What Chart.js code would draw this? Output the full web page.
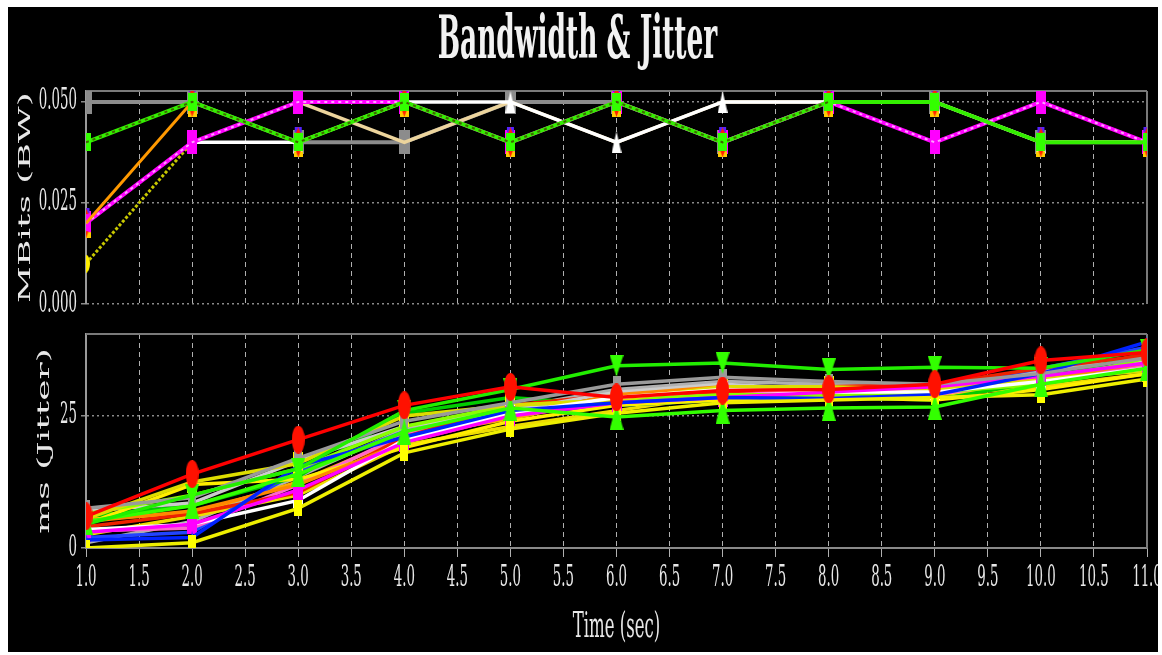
<!DOCTYPE html>
<html><head><meta charset="utf-8">
<script src="https://cdn.jsdelivr.net/npm/chart.js@4.4.1/dist/chart.umd.min.js"></script>
<style>
html,body{margin:0;padding:0;background:#fff;width:1162px;height:655px;overflow:hidden;}
#wrap{position:absolute;left:8px;top:7px;width:1150px;height:645px;background:#000;overflow:hidden;}
#c1{position:absolute;left:0;top:0;width:1150px;height:317px;}
#c2{position:absolute;left:0;top:317px;width:1150px;height:328px;}
</style></head><body>
<div id="wrap"><canvas id="c1" width="1150" height="317"></canvas><canvas id="c2" width="1150" height="328"></canvas></div>
<script>
// ---------- data ----------
const times = [1, 2, 3, 4, 5, 6, 7, 8, 9, 10, 11];
const xTicks = [1.0, 1.5, 2.0, 2.5, 3.0, 3.5, 4.0, 4.5, 5.0, 5.5, 6.0, 6.5, 7.0, 7.5, 8.0, 8.5, 9.0, 9.5, 10.0, 10.5, 11.0];
const bwTicks = [0, 0.025, 0.05];
const jitterTicks = [0, 25];

// Bandwidth (MBits)
const bwGreen   = [0.04, 0.05, 0.04, 0.05, 0.04, 0.05, 0.04, 0.05, 0.05, 0.04, 0.04];
const bwOlive   = [0.04, 0.05, 0.04, 0.05, 0.04, 0.05, 0.04, 0.05, null, null, null];
const bwMagenta = [0.02, 0.04, 0.05, 0.05, 0.04, 0.05, 0.04, 0.05, 0.04, 0.05, 0.04];
const bwWhite   = [null, 0.04, 0.04, 0.05, 0.05, 0.04, 0.05, 0.05, 0.05, 0.04, 0.04];
const bwTan     = [null, null, 0.05, 0.04, 0.05, 0.04, 0.05, 0.05, 0.05, 0.04, 0.04];
const bwGray    = [0.05, 0.05, 0.04, 0.04, 0.05, 0.05, 0.04, 0.05, 0.05, 0.04, 0.04];
const bwOrange  = [0.02, 0.05, 0.04, 0.05, 0.04, 0.05, 0.04, 0.05, 0.05, 0.04, 0.04];
const bwYellow  = [0.01, 0.04, 0.05, 0.05, 0.04, 0.05, 0.04, 0.05, 0.04, 0.05, 0.04];

// Jitter (ms)
const jRed      = [6, 14, 20.5, 27, 30.5, 28.5, 29.8, 30, 31, 35.5, 37];
const jGreenHi  = [4.5, 10, 15, 26, 30, 34.5, 35, 33.8, 34.2, 34, 37.5];
const jGreenLo  = [5, 8, 14, 22, 26.5, 24.8, 26, 26.5, 26.7, 31, 34];
const jGray     = [7.5, 9.5, 17, 24, 27.5, 31, 32.3, 31.5, 31, 33, 36];
const jYellowLo = [0, 1, 7.5, 18, 22.5, 25.5, 27.5, 28, 28.5, 29, 32];
const jYellowHi = [5.5, 12.5, 16, 25, 27, 28, 30.5, 30.5, 30, 32, 33.5];
const jBlue     = [1.5, 2, 15.5, 21, 26, 27.5, 28.5, 28.3, 29, 33, 39];
const jMagenta  = [3, 4.5, 11, 20, 25, 27.5, 28.5, 29.5, 30.5, 32.5, 35];
const jWhite    = [3.5, 4.5, 9, 20.5, 25.5, 28.5, 30, 29.5, 29.5, 31.5, 34];
const jOrange   = [5, 7, 12, 20, 25, 29, 30.5, 30, 30, 32, 35];
const jLime     = [6.5, 10, 15, 23, 27, 28, 29, 29, 29.5, 31, 36];
const jYellow2  = [4.5, 12, 13, 19, 24, 27, 28, 28.5, 28, 30, 33];
const jSilver   = [7, 8.5, 16.5, 23, 26, 29.5, 31, 30, 30.5, 32, 35.5];
const jRed2     = [4, 6.5, 10.5, 21, 27, 29, 29.5, 30.5, 31, 34, 36.5];
const jGreen3   = [6, 8, 13.5, 25.5, 28.5, 27, 28, 28.5, 28, 31.5, 37];
const jPink     = [3.2, 3.8, 12, 21.5, 26, 28, 29, 29.5, 29, 32, 34.5];
const jBlue2    = [2, 3, 14.5, 22, 25.5, 27, 28, 28.5, 30.5, 34, 38];
const jYellow3  = [2.5, 6, 10, 19.5, 23, 26, 29, 29, 29, 30.5, 33];
const jAmber    = [5.5, 6.5, 12.5, 21, 24.5, 28.5, 29.5, 29, 29.5, 31.5, 34];
const jGray2    = [1, 5, 13.5, 22.5, 26.5, 30, 31.5, 31, 30.5, 33.5, 36.5];

// ---------- helpers ----------
const FONT = 'DejaVu Serif';
const TXT = '#e8e8e8';

// condensed text look: scale glyphs horizontally on screen around anchor
function condense(ctx) {
  const orig = ctx.fillText.bind(ctx);
  ctx.fillText = function (text, x, y, maxWidth) {
    const sx = /bold/.test(ctx.font) ? 0.44 : 0.46;
    const m = ctx.getTransform();
    const px = m.a * x + m.c * y + m.e;
    const py = m.b * x + m.d * y + m.f;
    ctx.save();
    ctx.setTransform(sx * m.a, m.b, sx * m.c, m.d, px, py);
    if (maxWidth !== undefined) orig(text, 0, 0, maxWidth); else orig(text, 0, 0);
    ctx.restore();
  };
}

function marker(shape, colors, w, h) {
  const c = document.createElement('canvas');
  c.width = w; c.height = h;
  const g = c.getContext('2d');
  const col = Array.isArray(colors) ? colors : [colors];
  g.fillStyle = col[0];
  g.beginPath();
  if (shape === 'rect') g.rect(0, 0, w, h);
  else if (shape === 'diamond') { g.moveTo(w / 2, 0); g.lineTo(w, h / 2); g.lineTo(w / 2, h); g.lineTo(0, h / 2); g.closePath(); }
  else if (shape === 'tri') { g.moveTo(w / 2, 0); g.lineTo(w, h); g.lineTo(0, h); g.closePath(); }
  else if (shape === 'triDown') { g.moveTo(0, 0); g.lineTo(w, 0); g.lineTo(w / 2, h); g.closePath(); }
  else if (shape === 'ellipse') g.ellipse(w / 2, h / 2, w / 2, h / 2, 0, 0, Math.PI * 2);
  else if (shape === 'stack') {
    // overlapping small markers peeking above/below a rect marker
    g.fillStyle = col[0]; g.fillRect(1, 0, w - 2, 5);
    g.fillStyle = col[1]; g.beginPath(); g.moveTo(w / 2, 0); g.lineTo(w - 2, 6); g.lineTo(2, 6); g.closePath(); g.fill();
    g.fillStyle = col[2]; g.fillRect(0, h - 6, w, 6);
    g.fillStyle = col[1]; g.beginPath(); g.moveTo(2, h - 7); g.lineTo(w - 2, h - 7); g.lineTo(w / 2, h); g.closePath(); g.fill();
    return c;
  }
  g.fill();
  return c;
}

function pts(values) { return values.map((v, i) => ({ x: times[i], y: v })); }

function line(label, values, color, width, extra) {
  return Object.assign({
    label, data: pts(values), borderColor: color, backgroundColor: color,
    borderWidth: width, pointRadius: 0, tension: 0, spanGaps: false
  }, extra || {});
}

const framePlugin = {
  id: 'frame',
  beforeDatasetsDraw(chart, args, opts) {
    const { ctx, chartArea: a } = chart;
    ctx.save();
    ctx.strokeStyle = opts.color; ctx.lineWidth = opts.width;
    ctx.beginPath();
    ctx.moveTo(a.left, a.top); ctx.lineTo(a.right, a.top);
    ctx.moveTo(a.right, a.top); ctx.lineTo(a.right, a.bottom);
    ctx.stroke();
    ctx.restore();
  }
};

const xScaleBase = (showLabels) => ({
  type: 'linear', min: times[0], max: times[times.length - 1],
  afterBuildTicks: s => { s.ticks = xTicks.map(v => ({ value: v })); },
  grid: { color: '#b0b0b0', lineWidth: 1, drawTicks: showLabels, tickLength: 9, tickColor: '#b0b0b0' },
  border: { display: showLabels, color: '#8a8a8a', width: 2, dash: [5, 4] },
  ticks: {
    display: showLabels, color: TXT, autoSkip: false, maxRotation: 0, padding: 7,
    font: { family: FONT, size: 29, lineHeight: 1 },
    callback: v => Number(v).toFixed(1)
  }
});

// ---------- top chart: bandwidth ----------
const c1 = document.getElementById('c1');
const ctx1 = c1.getContext('2d');
condense(ctx1);

const stackM = marker('stack', ['#5522ff', '#ff2200', '#ffcc00'], 9, 30);

new Chart(ctx1, {
  type: 'line',
  data: {
    datasets: [
      line('olive', bwOlive, '#3f6400', 2, { borderDash: [3, 4] }),
      line('green', bwGreen, '#33ee00', 4, { pointRadius: 6, pointStyle: marker('rect', '#33ff00', 9, 18) }),
      line('orange', bwOrange, '#ff9900', 3, { pointRadius: 6, pointStyle: stackM }),
      line('pink', bwMagenta, '#ffa0ff', 2, { borderDash: [3, 4] }),
      line('magenta', bwMagenta, '#ff00ff', 4, { pointRadius: 6, pointStyle: marker('rect', '#ff00ff', 10, 24) }),
      line('yellow', bwYellow, '#c8c800', 3, { borderDash: [3, 2], pointRadius: 6, pointStyle: marker('ellipse', '#ffee00', 8, 18) }),
      line('white', bwWhite, '#ffffff', 3.5, { pointRadius: 6, pointStyle: marker('tri', '#ffffff', 10, 22) }),
      line('tan', bwTan, '#ecd49c', 3.5),
      line('gray', bwGray, '#8c8c8c', 4, { pointRadius: 6, pointStyle: marker('rect', '#8c8c8c', 11, 24) })
    ]
  },
  options: {
    responsive: false, animation: false, events: [],
    layout: { padding: { left: 0, right: 11, top: 0, bottom: 20 } },
    plugins: {
      legend: { display: false }, tooltip: { enabled: false },
      title: {
        display: true, text: 'Bandwidth & Jitter', color: '#f2f2f2',
        font: { family: FONT, size: 60, weight: 'bold', lineHeight: 1 },
        padding: { top: 5, bottom: 19 }
      },
      frame: { color: '#7a7a7a', width: 2 }
    },
    scales: {
      x: Object.assign(xScaleBase(false), {
        afterFit: s => { s.height = 0; s.paddingLeft = 0; s.paddingRight = 0; }
      }),
      y: {
        min: 0, max: 0.0527,
        afterBuildTicks: s => { s.ticks = bwTicks.map(v => ({ value: v })); },
        afterFit: s => { s.width = 78; s.paddingTop = 0; s.paddingBottom = 0; },
        ticks: { color: TXT, padding: 4, font: { family: FONT, size: 29, lineHeight: 1 }, callback: v => Number(v).toFixed(3) },
        grid: { color: '#8a8a8a', lineWidth: 1.5, tickLength: 5, tickColor: '#8a8a8a' },
        border: { display: true, color: '#9a9a9a', width: 2, dash: [2, 3] },
        title: { display: true, text: 'MBits (BW)', color: TXT, font: { family: FONT, size: 36, lineHeight: 1 }, padding: { top: 0, bottom: 0 } }
      }
    }
  },
  plugins: [framePlugin]
});

// ---------- bottom chart: jitter ----------
const c2 = document.getElementById('c2');
const ctx2 = c2.getContext('2d');
condense(ctx2);

const JW = 3.5;
new Chart(ctx2, {
  type: 'line',
  data: {
    datasets: [
      line('red', jRed, '#ff0000', JW, { pointRadius: 6, pointStyle: marker('ellipse', '#ff1100', 13, 28) }),
      line('greenHi', jGreenHi, '#22ee00', JW, { pointRadius: 6, pointStyle: marker('triDown', '#33ff00', 14, 22) }),
      line('greenLo', jGreenLo, '#33ff00', JW, { pointRadius: 6, pointStyle: marker('tri', '#33ff00', 14, 26) }),
      line('gray', jGray, '#9a9a9a', JW, { pointRadius: 6, pointStyle: marker('rect', '#9a9a9a', 8, 16) }),
      line('yellowLo', jYellowLo, '#eeee00', JW, { pointRadius: 6, pointStyle: marker('rect', '#ffff00', 8, 16) }),
      line('blue', jBlue, '#0022ff', JW, { pointRadius: 6, pointStyle: marker('tri', '#1133ff', 7, 12) }),
      line('magenta', jMagenta, '#ff00ff', JW, { pointRadius: 6, pointStyle: marker('rect', '#ff00ff', 10, 20) }),
      line('white', jWhite, '#ffffff', JW, { pointRadius: 6, pointStyle: marker('rect', '#ffffff', 10, 16) }),
      line('yellowHi', jYellowHi, '#dddd00', JW, { pointRadius: 6, pointStyle: marker('rect', '#ffff00', 10, 22) }),
      line('orange', jOrange, '#ff8800', JW),
      line('lime', jLime, '#88ff00', JW),
      line('yellow2', jYellow2, '#ffee00', JW),
      line('silver', jSilver, '#cccccc', JW),
      line('red2', jRed2, '#ee2200', JW),
      line('green3', jGreen3, '#00cc00', JW),
      line('pink', jPink, '#ff66cc', JW),
      line('blue2', jBlue2, '#2244ff', JW),
      line('yellow3', jYellow3, '#eedd00', JW),
      line('amber', jAmber, '#ffaa00', JW),
      line('gray2', jGray2, '#b0b0b0', JW)
    ]
  },
  options: {
    responsive: false, animation: false, events: [],
    layout: { padding: { left: 0, right: 11, top: 10, bottom: 0 } },
    plugins: {
      legend: { display: false }, tooltip: { enabled: false },
      frame: { color: '#7a7a7a', width: 2 }
    },
    scales: {
      x: Object.assign(xScaleBase(true), {
        afterFit: s => { s.height = 104; s.paddingLeft = 0; s.paddingRight = 0; },
        title: { display: true, text: 'Time (sec)', color: TXT, font: { family: FONT, size: 36, lineHeight: 1 }, padding: { top: 0, bottom: 6 } }
      }),
      y: {
        min: 0, max: 40.5,
        afterBuildTicks: s => { s.ticks = jitterTicks.map(v => ({ value: v })); },
        afterFit: s => { s.width = 78; s.paddingTop = 0; s.paddingBottom = 0; },
        ticks: { color: TXT, padding: 4, font: { family: FONT, size: 29, lineHeight: 1 }, callback: v => String(v) },
        grid: { color: '#8a8a8a', lineWidth: 1.5, tickLength: 5, tickColor: '#8a8a8a' },
        border: { display: true, color: '#9a9a9a', width: 2, dash: [2, 3] },
        title: { display: true, text: 'ms (Jitter)', color: TXT, font: { family: FONT, size: 36, lineHeight: 1 }, padding: { top: 19, bottom: 0 } }
      }
    }
  },
  plugins: [framePlugin]
});
</script>
</body></html>
